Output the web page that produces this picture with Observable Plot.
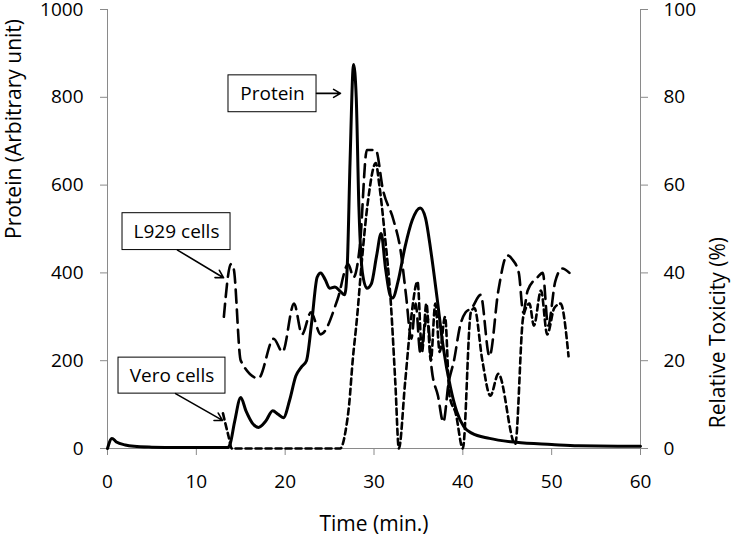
<!DOCTYPE html>
<html><head><meta charset="utf-8">
<script src="https://cdn.jsdelivr.net/npm/d3@7"></script>
<script src="https://cdn.jsdelivr.net/npm/@observablehq/plot@0.6"></script>
<style>body{margin:0;background:#fff} svg{display:block}</style>
</head><body><div id="chart"></div>
<script>
// Protein (left axis, arbitrary unit)
const proteinTime = [0,0.5,1,2,3,5,8,13.5,13.8,14.3,15,15.6,16.3,17,17.8,18.6,19.2,19.8,20.5,21.2,21.8,22.4,23,23.6,24,24.5,25,25.6,26.2,26.7,27.0,27.3,27.7,28.0,28.3,28.7,29.2,29.7,30.3,30.8,31.3,31.8,32.1,32.7,33.5,34.3,35.2,35.8,36.4,37.1,37.8,38.6,39.3,40.1,41,43,46,50,53,60];
const proteinValue = [0,23,15,8,5,3,2,2,10,60,116,85,58,48,62,86,78,70,110,165,185,200,290,390,400,385,365,368,358,350,420,650,875,800,550,400,365,375,440,490,410,350,343,380,460,520,548,525,450,343,230,140,85,50,35,23,14,9,6,5];
// L929 cells (right axis, %)
const l929Time = [13.1,13.9,14.2,15.0,17.0,18.7,19.7,21.0,21.9,22.9,24.0,25.9,27.1,27.7,28.4,29.2,30.2,31.0,32.2,33.0,33.6,34.2,34.7,35.2,36.0,36.5,37.2,37.8,38.4,39.0,39.7,40.3,41.0,42.0,43.0,44.0,45.0,45.6,46.3,46.8,47.3,48.4,49.0,49.6,50.4,51.2,52.0];
const l929Tox = [30,42,41,20,16,25,22,33,26,31,26,34,42,39,46,68,68,59,52,45,35,25,33,22,30,18,12,6,15,20,28,31,32,35,21,36,44,43,40,31,36,39,40,28,38,41,40];
// Vero cells (right axis, %)
const veroTime = [13.0,13.6,14.0,26.2,26.8,27.2,27.6,28.1,28.6,29.3,30.2,30.6,31.2,31.9,32.4,32.8,33.5,34.2,34.9,35.4,35.9,36.4,36.9,37.4,38.0,38.5,39.2,40.0,40.9,41.3,42.2,43.1,44.0,45.9,46.8,47.5,48.0,48.8,49.5,50.3,51.0,51.9];
const veroTox = [8,3,0,0,4,10,20,30,42,56,65,60,49,33,15,0,15,30,38,22,33,20,33,22,30,12,8,0,31,32,20,12,17,1,30,33,28,36,26,32,33,21];
// Axes
const xTicks = [0,10,20,30,40,50,60];
const yTicks = [0,200,400,600,800,1000];
const toxTickLabels = ["0","20","40","60","80","100"];
// Annotations (data units)
const noteLabel = ["Protein","L929 cells","Vero cells"];
const noteX1 = [13.62,1.69,1.24];
const noteX2 = [23.53,13.85,13.28];
const noteY1 = [766,452,125];
const noteY2 = [850,536,207];
const arrowX1 = [23.53,7.88,7.66];
const arrowY1 = [809,452,125];
const arrowX2 = [26.23,13.06,12.95];
const arrowY2 = [809,389,64];

const protein = proteinTime.map((t,i)=>({t, v: proteinValue[i]}));
const l929 = l929Time.map((t,i)=>({t, v: l929Tox[i]*10}));
const vero = veroTime.map((t,i)=>({t, v: veroTox[i]*10}));
const notes = noteLabel.map((label,i)=>({label, x1: noteX1[i], x2: noteX2[i], y1: noteY1[i], y2: noteY2[i]}));
const arrows = arrowX1.map((x1,i)=>({x1, y1: arrowY1[i], x2: arrowX2[i], y2: arrowY2[i]}));
const axisGrey = "#8a8a8a";

const chart = Plot.plot({
  width: 746, height: 543,
  marginLeft: 107, marginRight: 106, marginTop: 9, marginBottom: 95,
  style: {fontFamily: "'Open Sans', sans-serif", fontSize: "19px", color: "#000", background: "#fff"},
  x: {domain: [0,60]},
  y: {domain: [0,1000]},
  marks: [
    Plot.ruleY([0], {stroke: axisGrey, strokeWidth: 1}),
    Plot.ruleX([0,60], {stroke: axisGrey, strokeWidth: 1}),
    Plot.axisX({ticks: xTicks, tickSize: 7, tickPadding: 19, label: null}),
    Plot.axisY({anchor: "left", ticks: yTicks, tickSize: 7, tickPadding: 17, label: null, tickFormat: d => String(d)}),
    Plot.axisY({anchor: "right", ticks: yTicks, tickSize: 7, tickPadding: 16, label: null,
      tickFormat: d => toxTickLabels[yTicks.indexOf(d)]}),
    Plot.line(vero, {x: "t", y: "v", stroke: "#000", strokeWidth: 2.6, strokeDasharray: "6,4", curve: "monotone-x"}),
    Plot.line(l929, {x: "t", y: "v", stroke: "#000", strokeWidth: 2.6, strokeDasharray: "13,7", curve: "monotone-x"}),
    Plot.line(protein, {x: "t", y: "v", stroke: "#000", strokeWidth: 3, curve: "monotone-x"}),
    Plot.rect(notes, {x1: "x1", x2: "x2", y1: "y1", y2: "y2", fill: "#fff", stroke: "#000", strokeWidth: 1}),
    Plot.text(notes, {x: d => (d.x1+d.x2)/2, y: d => (d.y1+d.y2)/2, text: "label", fontSize: 19, fill: "#000"}),
    Plot.arrow(arrows, {x1: "x1", y1: "y1", x2: "x2", y2: "y2", stroke: "#000", strokeWidth: 1.6, headLength: 8}),
    Plot.text(["Protein (Arbitrary unit)"], {frameAnchor: "left", dx: -93, dy: 10, rotate: -90, fontSize: 21, fill: "#000"}),
    Plot.text(["Relative Toxicity (%)"], {frameAnchor: "right", dx: 78, dy: 8, rotate: -90, fontSize: 21, fill: "#000"}),
    Plot.text(["Time (min.)"], {frameAnchor: "bottom", dy: 82, fontSize: 21, fill: "#000"})
  ]
});
chart.querySelectorAll('g[aria-label$="axis tick"]').forEach(g => g.setAttribute("stroke", axisGrey));
document.getElementById("chart").append(chart);
</script>
</body></html>
